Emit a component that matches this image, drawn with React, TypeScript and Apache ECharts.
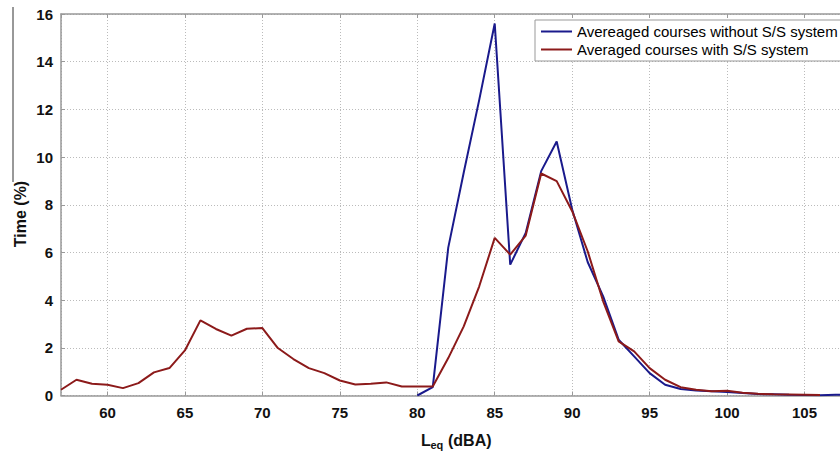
import React, { useEffect, useRef } from "react";
import * as echarts from "echarts";

const levelsWith = [57, 58, 59, 60, 61, 62, 63, 64, 65, 66, 67, 68, 69, 70, 71, 72, 73, 74, 75, 76, 77, 78, 79, 80, 81, 82, 83, 84, 85, 86, 87, 88, 89, 90, 91, 92, 93, 94, 95, 96, 97, 98, 99, 100, 101, 102, 103, 104, 105, 106];
const withSS = [0.24, 0.66, 0.49, 0.45, 0.31, 0.52, 0.97, 1.15, 1.89, 3.15, 2.79, 2.51, 2.8, 2.83, 1.99, 1.53, 1.15, 0.94, 0.63, 0.46, 0.49, 0.55, 0.38, 0.38, 0.38, 1.57, 2.9, 4.58, 6.61, 5.91, 6.71, 9.31, 8.99, 7.73, 6.05, 3.95, 2.27, 1.85, 1.15, 0.66, 0.35, 0.24, 0.18, 0.2, 0.12, 0.07, 0.05, 0.04, 0.03, 0.02];

const levelsWithout = [80, 81, 82, 83, 84, 85, 86, 87, 88, 89, 90, 91, 92, 93, 94, 95, 96, 97, 98, 99, 100, 101, 102, 103, 104, 105, 106, 107, 108];
const withoutSS = [0.0, 0.35, 6.2, 9.35, 12.4, 15.6, 5.49, 6.82, 9.41, 10.65, 7.8, 5.6, 4.16, 2.34, 1.64, 0.94, 0.45, 0.27, 0.21, 0.18, 0.15, 0.1, 0.06, 0.05, 0.03, 0.02, 0.01, 0.03, 0.03];

const seriesNames = ["Avereaged courses without S/S system", "Averaged courses with S/S system"];
const yTicks = { min: 0, max: 16, interval: 2 };
const xRange = { min: 57, max: 108, step: 5 };

const FONT = "'Liberation Sans', Arial, sans-serif";

export default function App() {
  const ref = useRef<HTMLDivElement>(null);
  useEffect(() => {
    document.body.style.margin = "0";
    const chart = echarts.init(ref.current!, null, { renderer: "svg" });
    const pair = (xs: number[], vals: number[]) => vals.map((v, i) => [xs[i], v]);
    const xCommon = {
      type: "value" as const,
      min: xRange.min,
      max: xRange.max,
      splitNumber: 10,
      minInterval: xRange.step,
      maxInterval: xRange.step,
    };
    chart.setOption({
      animation: false,
      backgroundColor: "#fff",
      textStyle: { fontFamily: FONT },
      grid: { left: 61, width: 790, top: 14, bottom: 55.5, containLabel: false, outerBoundsMode: "none" },
      legend: {
        orient: "vertical",
        left: 535,
        top: 20,
        padding: [3, 6, 3, 6],
        icon: "rect",
        itemWidth: 31,
        itemHeight: 2,
        itemGap: 1,
        backgroundColor: "#fff",
        borderColor: "#999",
        borderWidth: 1,
        borderRadius: 0,
        textStyle: { fontFamily: FONT, fontSize: 15, color: "#000", lineHeight: 17 },
        data: seriesNames,
      },
      xAxis: [
        {
          ...xCommon,
          position: "bottom",
          axisLine: { show: true, onZero: false, lineStyle: { color: "#999", width: 1.5 } },
          axisTick: { show: true, inside: true, length: 4, lineStyle: { color: "#999" } },
          axisLabel: {
            show: true,
            margin: 9,
            fontSize: 15,
            fontWeight: "bold",
            color: "#111",
            fontFamily: FONT,
            showMinLabel: false,
            showMaxLabel: false,
          },
          splitLine: { show: true, lineStyle: { color: "#bbb", type: [1, 2], width: 1 } },
        },
        {
          ...xCommon,
          position: "top",
          axisLine: { show: true, onZero: false, lineStyle: { color: "#999", width: 1.5 } },
          axisTick: { show: true, inside: true, length: 4, lineStyle: { color: "#999" } },
          axisLabel: { show: false },
          splitLine: { show: false },
        },
      ],
      yAxis: {
        type: "value",
        min: yTicks.min,
        max: yTicks.max,
        interval: yTicks.interval,
        axisLine: { show: true, onZero: false, lineStyle: { color: "#999", width: 1.5 } },
        axisTick: { show: true, inside: true, length: 4, lineStyle: { color: "#999" } },
        axisLabel: { margin: 8, fontSize: 15, fontWeight: "bold", color: "#111", fontFamily: FONT },
        splitLine: { show: true, lineStyle: { color: "#bbb", type: [1, 2], width: 1 } },
      },
      series: [
        {
          name: seriesNames[0],
          type: "line",
          data: pair(levelsWithout, withoutSS),
          symbol: "none",
          color: "#1a1a8c",
          lineStyle: { width: 2, color: "#1a1a8c" },
          z: 3,
        },
        {
          name: seriesNames[1],
          type: "line",
          data: pair(levelsWith, withSS),
          symbol: "none",
          color: "#8c1a1a",
          lineStyle: { width: 2, color: "#8c1a1a" },
          z: 4,
        },
      ],
      graphic: [
        {
          type: "line",
          shape: { x1: 13, y1: 7, x2: 13, y2: 182 },
          style: { stroke: "#333", lineWidth: 1 },
        },
        {
          type: "text",
          x: 20,
          y: 214,
          rotation: Math.PI / 2,
          style: {
            text: "Time (%)",
            fontFamily: FONT,
            fontSize: 16,
            fontWeight: "bold",
            fill: "#111",
            align: "center",
            verticalAlign: "middle",
          },
        },
        {
          type: "text",
          x: 421,
          y: 440,
          style: {
            text: "L",
            fontFamily: FONT,
            fontSize: 16,
            fontWeight: "bold",
            fill: "#111",
            align: "left",
            verticalAlign: "middle",
          },
        },
        {
          type: "text",
          x: 430.5,
          y: 445,
          style: {
            text: "eq",
            fontFamily: FONT,
            fontSize: 11,
            fontWeight: "bold",
            fill: "#111",
            align: "left",
            verticalAlign: "middle",
          },
        },
        {
          type: "text",
          x: 448,
          y: 440,
          style: {
            text: "(dBA)",
            fontFamily: FONT,
            fontSize: 16,
            fontWeight: "bold",
            fill: "#111",
            align: "left",
            verticalAlign: "middle",
          },
        },
      ],
    });
    return () => chart.dispose();
  }, []);
  return <div ref={ref} style={{ width: 840, height: 451 }} />;
}
